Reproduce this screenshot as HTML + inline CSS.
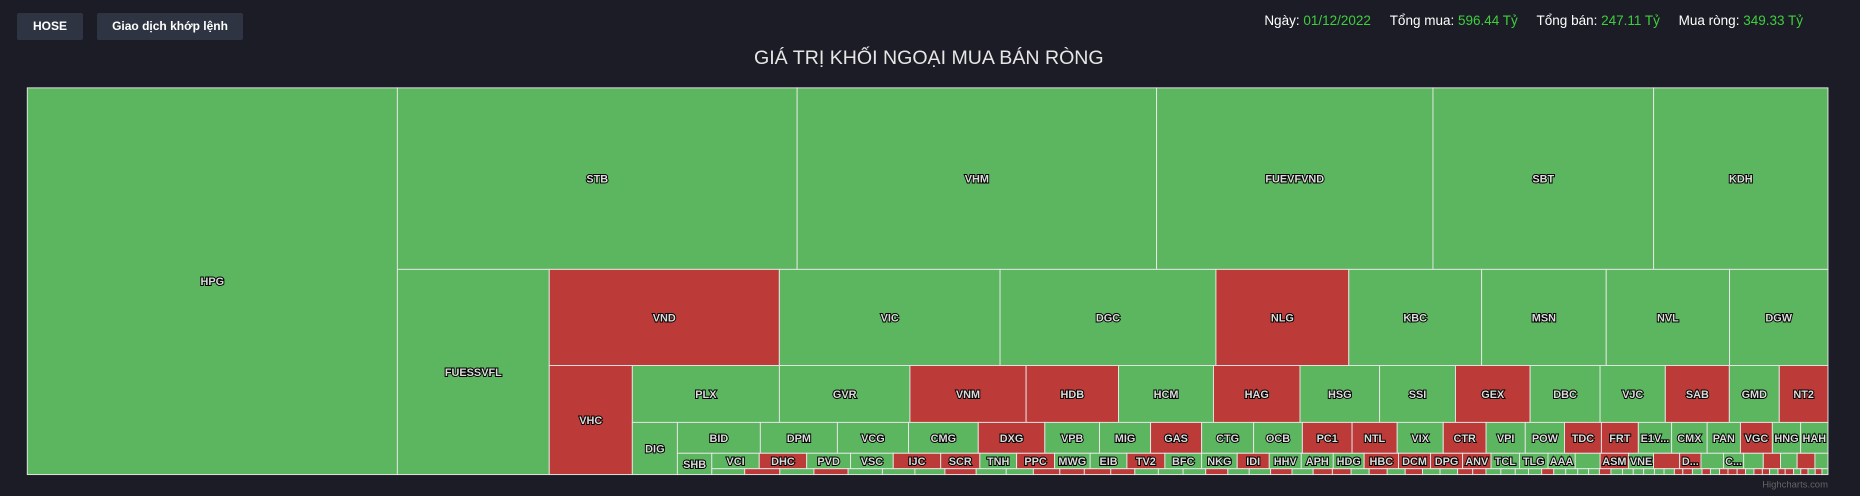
<!DOCTYPE html>
<html><head><meta charset="utf-8">
<style>
html,body{margin:0;padding:0;background:#1b1c25;width:1860px;height:496px;overflow:hidden;font-family:"Liberation Sans",sans-serif;}
.btn{position:absolute;top:13px;height:27px;background:#2e3442;border-radius:2px;color:#fff;font-weight:bold;font-size:12px;line-height:27px;text-align:center;}
#stats{position:absolute;top:13px;right:57px;font-size:13.5px;color:#fff;white-space:nowrap;}
#stats span.v{color:#3ecf3e;}
#stats .it{margin-left:15px;}
svg{position:absolute;left:0;top:0;}
</style></head><body>
<div class="btn" style="left:17px;width:66px">HOSE</div>
<div class="btn" style="left:97px;width:146px">Giao dịch khớp lệnh</div>
<div id="stats">
<span>Ngày: <span class="v">01/12/2022</span></span>
<span class="it">Tổng mua: <span class="v">596.44 Tỷ</span></span>
<span class="it">Tổng bán: <span class="v">247.11 Tỷ</span></span>
<span class="it">Mua ròng: <span class="v">349.33 Tỷ</span></span>
</div>
<svg id="chart" width="1860" height="496" viewBox="0 0 1568 418">
<text x="783" y="54" text-anchor="middle" font-size="16.5" fill="#e6e6e6" font-family="Liberation Sans, sans-serif">GIÁ TRỊ KHỐI NGOẠI MUA BÁN RÒNG</text>
<g id="cells"></g>
<text x="1541" y="411" text-anchor="end" font-size="8" fill="#666" font-family="Liberation Sans, sans-serif">Highcharts.com</text>
</svg>
<script>
const names = [
"HPG",
"STB","VHM","FUEVFVND","SBT","KDH",
"FUESSVFL",
"VND","VIC","DGC","NLG","KBC","MSN","NVL","DGW",
"VHC",
"PLX","GVR","VNM","HDB","HCM","HAG","HSG","SSI","GEX","DBC","VJC","SAB","GMD","NT2",
"DIG",
"BID","DPM","VCG","CMG","DXG","VPB","MIG","GAS","CTG","OCB","PC1","NTL","VIX","CTR","VPI","POW","TDC","FRT","E1VFVN30","CMX","PAN","VGC","HNG","HAH",
"SHB",
"VCI","DHC","PVD","VSC","IJC","SCR","TNH","PPC","MWG","EIB","TV2","BFC","NKG","IDI","HHV","APH","HDG","HBC","DCM","DPG","ANV","TCL","TLG","AAA","FUEVN100","ASM","VNE","FUEKIV30","DRH","FUEIP100","CRE","PHRXX","ITAXX","HQCXX","VOSXX","SZCXX",
"KDC","BCG","LCG","HSL","CII","TCH","FCN","DXS","PDR","HDC","LDG","HAX","ST8","SGR","CSV","TTF","PTB","DHA","SJS","BMP","VTO","TYA","CKG","SHI","TDH","HVH","DAH","TIP","SVD","PGD","CTD","TCM","VRC","LHG","DRC","KSB","QCG","CRC","AGG","ITC","HAP","ELC","FIT","SKG","BWE","VSH","HT1","TDG","MCP","TNA","DLG","PET","SMC","VPH","CIG","CLC","LSS","SAM","OGC","BTP","TLH","DTA","NAF","HTN","TSC","GIL","JVC"
];
const values = [
1017,
515.6,463.6,356.5,284.6,224.9,
221.4,
-157.1,150.7,147.4,-90.7,90.7,85.1,84.2,67.2,
-64.4,
59.5,52.8,-47.0,-37.4,38.4,-35.0,32.2,30.7,-30.2,28.3,26.4,-25.9,20.2,-19.7,
16.7,
18.2,16.9,15.6,15.3,-14.6,12.0,11.2,-11.2,11.4,10.7,-10.9,-9.9,10.1,-9.4,8.6,8.6,-8.1,-8.1,7.3,7.8,7.3,-7.0,6.2,6.0,
5.2,
5.2,-5.2,4.81,4.68,-5.2,-4.29,4.03,-4.16,3.9,4.03,-4.16,4.03,3.9,-3.51,3.51,3.51,3.38,-3.77,-3.51,-3.51,-3.12,3.12,3.12,2.99,2.73,-3.12,2.73,-2.86,-2.34,2.47,2.21,2.15,-1.89,1.82,-1.95,1.43,
1.37,-1.46,1.42,-1.42,1.43,1.35,1.25,-1.3,1.25,1.13,-1.1,-1.02,-1.1,-1.0,0.98,1.03,
0.94,-0.92,0.89,0.89,-0.89,0.88,-0.8,-0.78,0.75,-0.75,0.75,-0.72,0.73,0.73,-0.63,-0.55,0.62,0.6,0.55,0.55,
-0.5,0.5,0.5,0.45,0.45,-0.48,0.48,0.45,0.43,0.45,0.4,0.43,-0.35,-0.4,0.4,-0.35,0.38,-0.35,-0.38,-0.35,0.35,-0.35,-0.3,0.35,-0.3,-0.35,0.3,-0.3,0.3,-0.28,0.25
];
const strips = [1,5,1,8,1,14,1,24,1,36,67];

const plot = {x:23, y:74, w:1518, h:326};
const GREEN = "#5cb65f", RED = "#bc3a37";
const NS = "http://www.w3.org/2000/svg";
const g = document.getElementById('cells');

const total = values.reduce((a,v)=>a+Math.abs(v),0);
const k = plot.w*plot.h/total;
function area(v){ return Math.abs(v)*k; }

let rect = {x:plot.x,y:plot.y,w:plot.w,h:plot.h};
let idx = 0;
const boxes = [];
strips.forEach((n,si)=>{
  const items = [];
  for(let j=0;j<n;j++) items.push(idx+j);
  idx += n;
  const s = items.reduce((a,i)=>a+area(values[i]),0);
  const last = si===strips.length-1;
  if(si%2===0 && !last){
    const w = s/rect.h;
    let y = rect.y;
    items.forEach(i=>{ const h = area(values[i])/s*rect.h; boxes.push({i,x:rect.x,y,w,h}); y+=h; });
    rect.x += w; rect.w -= w;
  } else {
    const h = last ? rect.h : s/rect.w;
    let x = rect.x;
    items.forEach(i=>{ const w = area(values[i])/s*rect.w; boxes.push({i,x,y:rect.y,w,h}); x+=w; });
    rect.y += h; rect.h -= h;
  }
});

boxes.forEach(b=>{
  const r = document.createElementNS(NS,'rect');
  r.setAttribute('x',b.x); r.setAttribute('y',b.y);
  r.setAttribute('width',b.w); r.setAttribute('height',b.h);
  r.setAttribute('fill', values[b.i]<0?RED:GREEN);
  r.setAttribute('stroke','#e6e6e6'); r.setAttribute('stroke-width','0.8');
  
  
  g.appendChild(r);
});
boxes.forEach(b=>{
  if(b.h < 9 || b.w < 12) return;
  const t = document.createElementNS(NS,'text');
  t.setAttribute('x', b.x+b.w/2); t.setAttribute('y', b.y+b.h/2+3.3);
  t.setAttribute('text-anchor','middle');
  t.setAttribute('font-size','9.2'); t.setAttribute('font-weight','bold');
  t.setAttribute('font-family','Liberation Sans, sans-serif');
  t.setAttribute('fill','#dcdcdc'); t.setAttribute('stroke','#000');
  t.setAttribute('stroke-width','1.6'); t.setAttribute('paint-order','stroke');
  
  
  t.textContent = names[b.i];
  g.appendChild(t);
  const name = names[b.i];
  if(t.getComputedTextLength() > b.w-2){
    let n = name.length-1;
    while(n>=1){
      t.textContent = name.slice(0,n)+'...';
      if(t.getComputedTextLength() <= b.w-2) break;
      n--;
    }
    const keep = n>=3 || (n>=1 && name.length<=4 && b.w>=16);
    if(!keep) t.remove();
  }
});
</script>
</body></html>
